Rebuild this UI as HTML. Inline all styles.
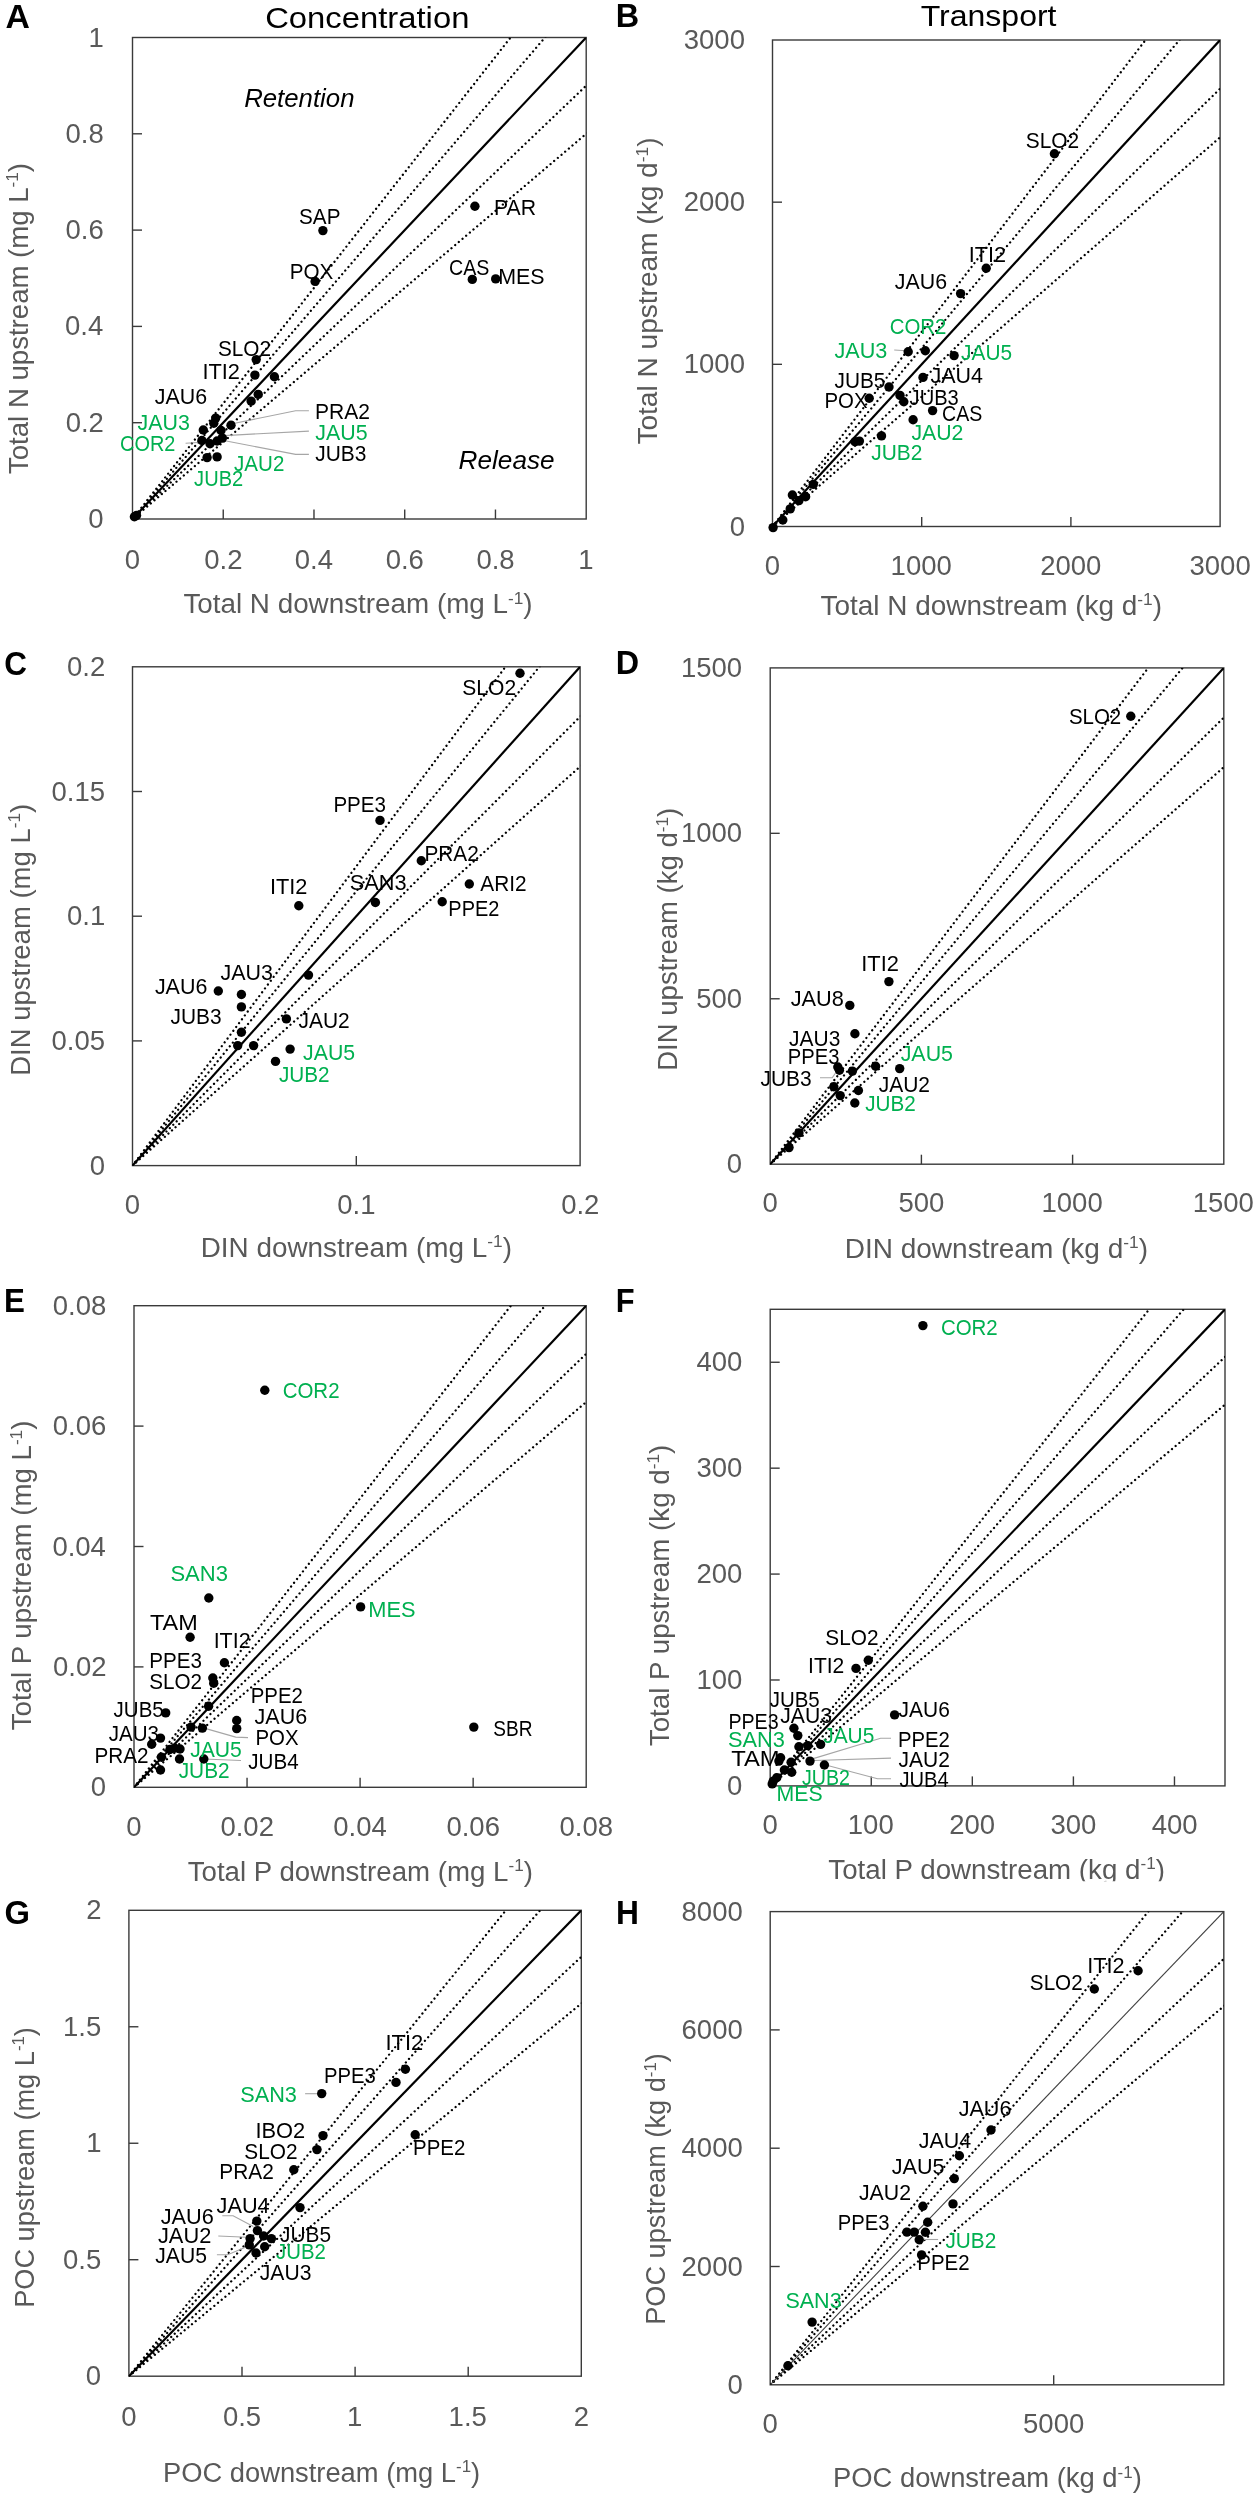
<!DOCTYPE html><html><head><meta charset="utf-8"><style>html,body{margin:0;padding:0;background:#fff;width:1260px;height:2500px;overflow:hidden;}svg{display:block;will-change:transform;font-family:"Liberation Sans",sans-serif;}</style></head><body>
<svg width="1260" height="2500" viewBox="0 0 1260 2500">
<rect width="1260" height="2500" fill="#fff"/>
<rect x="132.5" y="37.5" width="453.70" height="481.50" fill="none" stroke="#3a3a3a" stroke-width="1.4"/>
<line x1="223.24" y1="519.0" x2="223.24" y2="509.5" stroke="#3a3a3a" stroke-width="1.4"/>
<line x1="313.98" y1="519.0" x2="313.98" y2="509.5" stroke="#3a3a3a" stroke-width="1.4"/>
<line x1="404.72" y1="519.0" x2="404.72" y2="509.5" stroke="#3a3a3a" stroke-width="1.4"/>
<line x1="495.46" y1="519.0" x2="495.46" y2="509.5" stroke="#3a3a3a" stroke-width="1.4"/>
<line x1="132.5" y1="422.70" x2="142.0" y2="422.70" stroke="#3a3a3a" stroke-width="1.4"/>
<line x1="132.5" y1="326.40" x2="142.0" y2="326.40" stroke="#3a3a3a" stroke-width="1.4"/>
<line x1="132.5" y1="230.10" x2="142.0" y2="230.10" stroke="#3a3a3a" stroke-width="1.4"/>
<line x1="132.5" y1="133.80" x2="142.0" y2="133.80" stroke="#3a3a3a" stroke-width="1.4"/>
<clipPath id="cA"><rect x="132.5" y="37.5" width="453.70000000000005" height="481.5"/></clipPath>
<g clip-path="url(#cA)">
<line x1="132.50" y1="519.00" x2="608.88" y2="-87.69" stroke="#000" stroke-width="2.3" stroke-linecap="round" stroke-dasharray="0.01 4.8"/>
<line x1="132.50" y1="519.00" x2="608.88" y2="-37.13" stroke="#000" stroke-width="2.3" stroke-linecap="round" stroke-dasharray="0.01 4.8"/>
<line x1="132.50" y1="519.00" x2="608.88" y2="63.98" stroke="#000" stroke-width="2.3" stroke-linecap="round" stroke-dasharray="0.01 4.8"/>
<line x1="132.50" y1="519.00" x2="608.88" y2="114.54" stroke="#000" stroke-width="2.3" stroke-linecap="round" stroke-dasharray="0.01 4.8"/>
<line x1="132.50" y1="519.00" x2="608.88" y2="13.42" stroke="#000" stroke-width="2.2"/>
</g>
<polyline points="308.9,410.7 295.6,410.7 231.1,424.0" fill="none" stroke="#a6a6a6" stroke-width="1.1"/>
<polyline points="308.9,431.1 224.4,435.6" fill="none" stroke="#a6a6a6" stroke-width="1.1"/>
<polyline points="308.9,454.4 295.6,454.4 221.1,440.0" fill="none" stroke="#a6a6a6" stroke-width="1.1"/>
<polyline points="185.6,443.3 202.2,442.2" fill="none" stroke="#a6a6a6" stroke-width="1.1"/>
<circle cx="256.2" cy="359.6" r="4.7"/>
<circle cx="254.9" cy="375.1" r="4.7"/>
<circle cx="274.4" cy="376.7" r="4.7"/>
<circle cx="258.2" cy="394.4" r="4.7"/>
<circle cx="251.1" cy="401.1" r="4.7"/>
<circle cx="215.7" cy="418.1" r="4.7"/>
<circle cx="213.8" cy="423.3" r="4.7"/>
<circle cx="203.3" cy="430.0" r="4.7"/>
<circle cx="231.0" cy="425.2" r="4.7"/>
<circle cx="221.0" cy="430.5" r="4.7"/>
<circle cx="222.4" cy="438.1" r="4.7"/>
<circle cx="201.9" cy="440.5" r="4.7"/>
<circle cx="210.0" cy="443.8" r="4.7"/>
<circle cx="217.1" cy="441.0" r="4.7"/>
<circle cx="207.1" cy="457.6" r="4.7"/>
<circle cx="217.1" cy="456.9" r="4.7"/>
<circle cx="134.4" cy="516.7" r="4.7"/>
<circle cx="136.5" cy="515.5" r="4.7"/>
<circle cx="322.9" cy="230.6" r="4.7"/>
<circle cx="315.1" cy="281.4" r="4.7"/>
<circle cx="474.9" cy="206.3" r="4.7"/>
<circle cx="472.3" cy="279.4" r="4.7"/>
<circle cx="495.7" cy="278.9" r="4.7"/>
<text transform="translate(217.97,355.60) scale(0.9225,1)" font-size="22.5" fill="#000">SLO2</text>
<text transform="translate(202.39,378.90) scale(0.9699,1)" font-size="22.5" fill="#000">ITI2</text>
<text transform="translate(154.78,404.00) scale(0.9514,1)" font-size="22.5" fill="#000">JAU6</text>
<text transform="translate(137.48,430.00) scale(0.9514,1)" font-size="22.5" fill="#00b050">JAU3</text>
<text transform="translate(120.10,451.10) scale(0.8846,1)" font-size="22.5" fill="#00b050">COR2</text>
<text transform="translate(314.97,418.90) scale(0.9355,1)" font-size="22.5" fill="#000">PRA2</text>
<text transform="translate(315.28,440.00) scale(0.9507,1)" font-size="22.5" fill="#00b050">JAU5</text>
<text transform="translate(315.29,461.10) scale(0.9310,1)" font-size="22.5" fill="#000">JUB3</text>
<text transform="translate(234.09,470.70) scale(0.9132,1)" font-size="22.5" fill="#00b050">JAU2</text>
<text transform="translate(194.10,486.20) scale(0.8926,1)" font-size="22.5" fill="#00b050">JUB2</text>
<text transform="translate(299.07,224.30) scale(0.9197,1)" font-size="22.5" fill="#000">SAP</text>
<text transform="translate(289.71,279.40) scale(0.9181,1)" font-size="22.5" fill="#000">POX</text>
<text transform="translate(493.96,215.10) scale(0.9445,1)" font-size="22.5" fill="#000">PAR</text>
<text transform="translate(449.02,274.90) scale(0.8748,1)" font-size="22.5" fill="#000">CAS</text>
<text transform="translate(498.24,284.30) scale(0.9521,1)" font-size="22.5" fill="#000">MES</text>
<text x="124.84" y="568.60" font-size="27.5" fill="#595959">0</text>
<text x="204.28" y="568.60" font-size="27.5" fill="#595959">0.2</text>
<text x="294.73" y="568.60" font-size="27.5" fill="#595959">0.4</text>
<text x="385.66" y="568.60" font-size="27.5" fill="#595959">0.6</text>
<text x="476.40" y="568.60" font-size="27.5" fill="#595959">0.8</text>
<text x="578.17" y="568.60" font-size="27.5" fill="#595959">1</text>
<text x="88.25" y="528.01" font-size="27.5" fill="#595959">0</text>
<text x="65.65" y="431.71" font-size="27.5" fill="#595959">0.2</text>
<text x="65.07" y="335.41" font-size="27.5" fill="#595959">0.4</text>
<text x="65.46" y="239.11" font-size="27.5" fill="#595959">0.6</text>
<text x="65.46" y="142.81" font-size="27.5" fill="#595959">0.8</text>
<text x="88.53" y="46.51" font-size="27.5" fill="#595959">1</text>
<text transform="translate(183.39,613.40) scale(1.0305,1)" font-size="27.0" fill="#595959"><tspan>Total N downstream (mg L</tspan><tspan font-size="16.74" dy="-9.72">-1</tspan><tspan dy="9.72">)</tspan></text>
<text transform="translate(27.70,474.01) rotate(-90) scale(1.0221,1)" font-size="27.0" fill="#595959"><tspan>Total N upstream (mg L</tspan><tspan font-size="16.74" dy="-9.72">-1</tspan><tspan dy="9.72">)</tspan></text>
<text transform="translate(5.49,27.70) scale(0.9994,1)" font-size="33.8" fill="#000" font-weight="bold">A</text>
<rect x="772.5" y="40.0" width="447.60" height="486.50" fill="none" stroke="#3a3a3a" stroke-width="1.4"/>
<line x1="921.70" y1="526.5" x2="921.70" y2="517.0" stroke="#3a3a3a" stroke-width="1.4"/>
<line x1="1070.90" y1="526.5" x2="1070.90" y2="517.0" stroke="#3a3a3a" stroke-width="1.4"/>
<line x1="772.5" y1="364.33" x2="782.0" y2="364.33" stroke="#3a3a3a" stroke-width="1.4"/>
<line x1="772.5" y1="202.17" x2="782.0" y2="202.17" stroke="#3a3a3a" stroke-width="1.4"/>
<clipPath id="cB"><rect x="772.5" y="40.0" width="447.5999999999999" height="486.5"/></clipPath>
<g clip-path="url(#cB)">
<line x1="772.50" y1="526.50" x2="1242.48" y2="-86.49" stroke="#000" stroke-width="2.3" stroke-linecap="round" stroke-dasharray="0.01 4.8"/>
<line x1="772.50" y1="526.50" x2="1242.48" y2="-35.41" stroke="#000" stroke-width="2.3" stroke-linecap="round" stroke-dasharray="0.01 4.8"/>
<line x1="772.50" y1="526.50" x2="1242.48" y2="66.76" stroke="#000" stroke-width="2.3" stroke-linecap="round" stroke-dasharray="0.01 4.8"/>
<line x1="772.50" y1="526.50" x2="1242.48" y2="117.84" stroke="#000" stroke-width="2.3" stroke-linecap="round" stroke-dasharray="0.01 4.8"/>
<line x1="772.50" y1="526.50" x2="1242.48" y2="15.67" stroke="#000" stroke-width="2.2"/>
</g>
<polyline points="894.2,350.0 906.4,350.7" fill="none" stroke="#a6a6a6" stroke-width="1.1"/>
<circle cx="1054.4" cy="153.8" r="4.7"/>
<circle cx="986.2" cy="268.2" r="4.7"/>
<circle cx="960.6" cy="293.6" r="4.7"/>
<circle cx="908.2" cy="351.7" r="4.7"/>
<circle cx="925.3" cy="350.7" r="4.7"/>
<circle cx="954.1" cy="355.6" r="4.7"/>
<circle cx="923.0" cy="377.4" r="4.7"/>
<circle cx="889.0" cy="387.0" r="4.7"/>
<circle cx="869.2" cy="398.3" r="4.7"/>
<circle cx="900.0" cy="395.4" r="4.7"/>
<circle cx="903.8" cy="401.8" r="4.7"/>
<circle cx="932.6" cy="410.6" r="4.7"/>
<circle cx="913.1" cy="419.8" r="4.7"/>
<circle cx="881.5" cy="435.9" r="4.7"/>
<circle cx="855.0" cy="441.7" r="4.7"/>
<circle cx="859.4" cy="441.1" r="4.7"/>
<circle cx="773.1" cy="527.6" r="4.7"/>
<circle cx="782.8" cy="520.0" r="4.7"/>
<circle cx="790.2" cy="508.9" r="4.7"/>
<circle cx="792.4" cy="495.0" r="4.7"/>
<circle cx="798.9" cy="500.6" r="4.7"/>
<circle cx="805.6" cy="496.7" r="4.7"/>
<circle cx="813.3" cy="484.4" r="4.7"/>
<text transform="translate(1025.76,147.80) scale(0.9297,1)" font-size="22.5" fill="#000">SLO2</text>
<text transform="translate(968.71,261.80) scale(0.9614,1)" font-size="22.5" fill="#000">ITI2</text>
<text transform="translate(894.78,288.90) scale(0.9496,1)" font-size="22.5" fill="#000">JAU6</text>
<text transform="translate(889.68,333.70) scale(0.9078,1)" font-size="22.5" fill="#00b050">COR2</text>
<text transform="translate(834.48,358.20) scale(0.9608,1)" font-size="22.5" fill="#00b050">JAU3</text>
<text transform="translate(961.09,359.90) scale(0.9265,1)" font-size="22.5" fill="#00b050">JAU5</text>
<text transform="translate(930.58,382.60) scale(0.9533,1)" font-size="22.5" fill="#000">JAU4</text>
<text transform="translate(834.49,387.90) scale(0.9265,1)" font-size="22.5" fill="#000">JUB5</text>
<text transform="translate(824.43,407.90) scale(0.9070,1)" font-size="22.5" fill="#000">POX</text>
<text transform="translate(909.60,404.50) scale(0.8937,1)" font-size="22.5" fill="#000">JUB3</text>
<text transform="translate(942.12,421.00) scale(0.8703,1)" font-size="22.5" fill="#000">CAS</text>
<text transform="translate(911.38,440.20) scale(0.9449,1)" font-size="22.5" fill="#00b050">JAU2</text>
<text transform="translate(871.19,459.50) scale(0.9300,1)" font-size="22.5" fill="#00b050">JUB2</text>
<text x="764.84" y="575.30" font-size="27.5" fill="#595959">0</text>
<text x="890.60" y="575.30" font-size="27.5" fill="#595959">1000</text>
<text x="1040.15" y="575.30" font-size="27.5" fill="#595959">2000</text>
<text x="1189.52" y="575.30" font-size="27.5" fill="#595959">3000</text>
<text x="729.65" y="535.51" font-size="27.5" fill="#595959">0</text>
<text x="683.78" y="373.34" font-size="27.5" fill="#595959">1000</text>
<text x="683.78" y="211.18" font-size="27.5" fill="#595959">2000</text>
<text x="683.78" y="49.01" font-size="27.5" fill="#595959">3000</text>
<text transform="translate(820.49,614.70) scale(1.0353,1)" font-size="27.0" fill="#595959"><tspan>Total N downstream (kg d</tspan><tspan font-size="16.74" dy="-9.72">-1</tspan><tspan dy="9.72">)</tspan></text>
<text transform="translate(657.40,444.62) rotate(-90) scale(1.0402,1)" font-size="27.0" fill="#595959"><tspan>Total N upstream (kg d</tspan><tspan font-size="16.74" dy="-9.72">-1</tspan><tspan dy="9.72">)</tspan></text>
<text transform="translate(615.76,27.00) scale(0.9588,1)" font-size="33.8" fill="#000" font-weight="bold">B</text>
<rect x="132.5" y="666.8" width="447.60" height="498.80" fill="none" stroke="#3a3a3a" stroke-width="1.4"/>
<line x1="356.30" y1="1165.6" x2="356.30" y2="1156.1" stroke="#3a3a3a" stroke-width="1.4"/>
<line x1="132.5" y1="1040.90" x2="142.0" y2="1040.90" stroke="#3a3a3a" stroke-width="1.4"/>
<line x1="132.5" y1="916.20" x2="142.0" y2="916.20" stroke="#3a3a3a" stroke-width="1.4"/>
<line x1="132.5" y1="791.50" x2="142.0" y2="791.50" stroke="#3a3a3a" stroke-width="1.4"/>
<clipPath id="cC"><rect x="132.5" y="666.8" width="447.6" height="498.79999999999995"/></clipPath>
<g clip-path="url(#cC)">
<line x1="132.50" y1="1165.60" x2="602.48" y2="537.11" stroke="#000" stroke-width="2.3" stroke-linecap="round" stroke-dasharray="0.01 4.8"/>
<line x1="132.50" y1="1165.60" x2="602.48" y2="589.49" stroke="#000" stroke-width="2.3" stroke-linecap="round" stroke-dasharray="0.01 4.8"/>
<line x1="132.50" y1="1165.60" x2="602.48" y2="694.23" stroke="#000" stroke-width="2.3" stroke-linecap="round" stroke-dasharray="0.01 4.8"/>
<line x1="132.50" y1="1165.60" x2="602.48" y2="746.61" stroke="#000" stroke-width="2.3" stroke-linecap="round" stroke-dasharray="0.01 4.8"/>
<line x1="132.50" y1="1165.60" x2="602.48" y2="641.86" stroke="#000" stroke-width="2.2"/>
</g>
<circle cx="520.0" cy="673.3" r="4.7"/>
<circle cx="380.0" cy="820.4" r="4.7"/>
<circle cx="421.3" cy="860.7" r="4.7"/>
<circle cx="469.3" cy="884.0" r="4.7"/>
<circle cx="375.4" cy="902.5" r="4.7"/>
<circle cx="442.2" cy="901.8" r="4.7"/>
<circle cx="298.8" cy="905.8" r="4.7"/>
<circle cx="308.5" cy="975.1" r="4.7"/>
<circle cx="218.3" cy="991.0" r="4.7"/>
<circle cx="241.4" cy="994.5" r="4.7"/>
<circle cx="241.4" cy="1006.9" r="4.7"/>
<circle cx="286.4" cy="1018.9" r="4.7"/>
<circle cx="241.4" cy="1032.3" r="4.7"/>
<circle cx="237.7" cy="1045.6" r="4.7"/>
<circle cx="253.6" cy="1045.6" r="4.7"/>
<circle cx="290.1" cy="1049.1" r="4.7"/>
<circle cx="275.5" cy="1061.4" r="4.7"/>
<text transform="translate(462.35,695.10) scale(0.9351,1)" font-size="22.5" fill="#000">SLO2</text>
<text transform="translate(333.41,811.80) scale(0.9137,1)" font-size="22.5" fill="#000">PPE3</text>
<text transform="translate(424.49,861.10) scale(0.9247,1)" font-size="22.5" fill="#000">PRA2</text>
<text transform="translate(480.36,890.70) scale(0.9253,1)" font-size="22.5" fill="#000">ARI2</text>
<text transform="translate(349.72,890.00) scale(0.9667,1)" font-size="22.5" fill="#000">SAN3</text>
<text transform="translate(448.36,915.60) scale(0.8871,1)" font-size="22.5" fill="#000">PPE2</text>
<text transform="translate(270.00,894.00) scale(0.9670,1)" font-size="22.5" fill="#000">ITI2</text>
<text transform="translate(154.88,994.10) scale(0.9533,1)" font-size="22.5" fill="#000">JAU6</text>
<text transform="translate(220.48,980.10) scale(0.9533,1)" font-size="22.5" fill="#000">JAU3</text>
<text transform="translate(170.59,1024.00) scale(0.9291,1)" font-size="22.5" fill="#000">JUB3</text>
<text transform="translate(298.49,1028.20) scale(0.9318,1)" font-size="22.5" fill="#000">JAU2</text>
<text transform="translate(303.08,1059.60) scale(0.9451,1)" font-size="22.5" fill="#00b050">JAU5</text>
<text transform="translate(278.99,1081.70) scale(0.9206,1)" font-size="22.5" fill="#00b050">JUB2</text>
<text x="124.84" y="1214.40" font-size="27.5" fill="#595959">0</text>
<text x="337.31" y="1214.40" font-size="27.5" fill="#595959">0.1</text>
<text x="561.14" y="1214.40" font-size="27.5" fill="#595959">0.2</text>
<text x="89.66" y="1174.61" font-size="27.5" fill="#595959">0</text>
<text x="51.51" y="1049.91" font-size="27.5" fill="#595959">0.05</text>
<text x="67.00" y="925.21" font-size="27.5" fill="#595959">0.1</text>
<text x="51.51" y="800.51" font-size="27.5" fill="#595959">0.15</text>
<text x="67.05" y="675.81" font-size="27.5" fill="#595959">0.2</text>
<text transform="translate(200.71,1257.00) scale(1.0324,1)" font-size="27.0" fill="#595959"><tspan>DIN downstream (mg L</tspan><tspan font-size="16.74" dy="-9.72">-1</tspan><tspan dy="9.72">)</tspan></text>
<text transform="translate(30.10,1075.86) rotate(-90) scale(1.0188,1)" font-size="27.0" fill="#595959"><tspan>DIN upstream (mg L</tspan><tspan font-size="16.74" dy="-9.72">-1</tspan><tspan dy="9.72">)</tspan></text>
<text transform="translate(4.21,674.90) scale(0.9319,1)" font-size="33.8" fill="#000" font-weight="bold">C</text>
<rect x="770.2" y="667.9" width="453.60" height="496.30" fill="none" stroke="#3a3a3a" stroke-width="1.4"/>
<line x1="921.40" y1="1164.2" x2="921.40" y2="1154.7" stroke="#3a3a3a" stroke-width="1.4"/>
<line x1="1072.60" y1="1164.2" x2="1072.60" y2="1154.7" stroke="#3a3a3a" stroke-width="1.4"/>
<line x1="770.2" y1="998.77" x2="779.7" y2="998.77" stroke="#3a3a3a" stroke-width="1.4"/>
<line x1="770.2" y1="833.33" x2="779.7" y2="833.33" stroke="#3a3a3a" stroke-width="1.4"/>
<clipPath id="cD"><rect x="770.2" y="667.9" width="453.5999999999999" height="496.30000000000007"/></clipPath>
<g clip-path="url(#cD)">
<line x1="770.20" y1="1164.20" x2="1246.48" y2="538.86" stroke="#000" stroke-width="2.3" stroke-linecap="round" stroke-dasharray="0.01 4.8"/>
<line x1="770.20" y1="1164.20" x2="1246.48" y2="590.97" stroke="#000" stroke-width="2.3" stroke-linecap="round" stroke-dasharray="0.01 4.8"/>
<line x1="770.20" y1="1164.20" x2="1246.48" y2="695.20" stroke="#000" stroke-width="2.3" stroke-linecap="round" stroke-dasharray="0.01 4.8"/>
<line x1="770.20" y1="1164.20" x2="1246.48" y2="747.31" stroke="#000" stroke-width="2.3" stroke-linecap="round" stroke-dasharray="0.01 4.8"/>
<line x1="770.20" y1="1164.20" x2="1246.48" y2="643.08" stroke="#000" stroke-width="2.2"/>
</g>
<polyline points="820.0,1077.8 832.2,1077.8 835.9,1072.5" fill="none" stroke="#a6a6a6" stroke-width="1.1"/>
<circle cx="1130.8" cy="716.2" r="4.7"/>
<circle cx="888.9" cy="981.6" r="4.7"/>
<circle cx="849.8" cy="1005.4" r="4.7"/>
<circle cx="854.9" cy="1033.7" r="4.7"/>
<circle cx="837.8" cy="1067.0" r="4.7"/>
<circle cx="839.4" cy="1070.2" r="4.7"/>
<circle cx="852.4" cy="1071.1" r="4.7"/>
<circle cx="875.6" cy="1066.2" r="4.7"/>
<circle cx="899.7" cy="1068.6" r="4.7"/>
<circle cx="833.8" cy="1086.8" r="4.7"/>
<circle cx="840.2" cy="1095.6" r="4.7"/>
<circle cx="858.4" cy="1090.5" r="4.7"/>
<circle cx="854.8" cy="1103.0" r="4.7"/>
<circle cx="798.9" cy="1132.9" r="4.7"/>
<circle cx="789.0" cy="1147.6" r="4.7"/>
<text transform="translate(1068.88,724.10) scale(0.9098,1)" font-size="22.5" fill="#000">SLO2</text>
<text transform="translate(861.19,971.00) scale(0.9727,1)" font-size="22.5" fill="#000">ITI2</text>
<text transform="translate(790.67,1006.30) scale(0.9663,1)" font-size="22.5" fill="#000">JAU8</text>
<text transform="translate(789.09,1045.60) scale(0.9310,1)" font-size="22.5" fill="#000">JAU3</text>
<text transform="translate(787.74,1064.10) scale(0.8991,1)" font-size="22.5" fill="#000">PPE3</text>
<text transform="translate(900.68,1060.60) scale(0.9507,1)" font-size="22.5" fill="#00b050">JAU5</text>
<text transform="translate(878.68,1091.60) scale(0.9337,1)" font-size="22.5" fill="#000">JAU2</text>
<text transform="translate(760.49,1085.70) scale(0.9310,1)" font-size="22.5" fill="#000">JUB3</text>
<text transform="translate(865.29,1110.60) scale(0.9188,1)" font-size="22.5" fill="#00b050">JUB2</text>
<text x="762.54" y="1211.90" font-size="27.5" fill="#595959">0</text>
<text x="898.44" y="1211.90" font-size="27.5" fill="#595959">500</text>
<text x="1041.50" y="1211.90" font-size="27.5" fill="#595959">1000</text>
<text x="1192.70" y="1211.90" font-size="27.5" fill="#595959">1500</text>
<text x="726.75" y="1173.21" font-size="27.5" fill="#595959">0</text>
<text x="696.17" y="1007.78" font-size="27.5" fill="#595959">500</text>
<text x="680.88" y="842.34" font-size="27.5" fill="#595959">1000</text>
<text x="680.88" y="676.91" font-size="27.5" fill="#595959">1500</text>
<text transform="translate(844.70,1257.80) scale(1.0378,1)" font-size="27.0" fill="#595959"><tspan>DIN downstream (kg d</tspan><tspan font-size="16.74" dy="-9.72">-1</tspan><tspan dy="9.72">)</tspan></text>
<text transform="translate(677.30,1070.76) rotate(-90) scale(1.0198,1)" font-size="27.0" fill="#595959"><tspan>DIN upstream (kg d</tspan><tspan font-size="16.74" dy="-9.72">-1</tspan><tspan dy="9.72">)</tspan></text>
<text transform="translate(615.86,673.90) scale(0.9573,1)" font-size="33.8" fill="#000" font-weight="bold">D</text>
<rect x="134.0" y="1305.7" width="452.20" height="481.60" fill="none" stroke="#3a3a3a" stroke-width="1.4"/>
<line x1="247.05" y1="1787.3" x2="247.05" y2="1777.8" stroke="#3a3a3a" stroke-width="1.4"/>
<line x1="360.10" y1="1787.3" x2="360.10" y2="1777.8" stroke="#3a3a3a" stroke-width="1.4"/>
<line x1="473.15" y1="1787.3" x2="473.15" y2="1777.8" stroke="#3a3a3a" stroke-width="1.4"/>
<line x1="134.0" y1="1666.90" x2="143.5" y2="1666.90" stroke="#3a3a3a" stroke-width="1.4"/>
<line x1="134.0" y1="1546.50" x2="143.5" y2="1546.50" stroke="#3a3a3a" stroke-width="1.4"/>
<line x1="134.0" y1="1426.10" x2="143.5" y2="1426.10" stroke="#3a3a3a" stroke-width="1.4"/>
<clipPath id="cE"><rect x="134.0" y="1305.7" width="452.20000000000005" height="481.5999999999999"/></clipPath>
<g clip-path="url(#cE)">
<line x1="134.00" y1="1787.30" x2="608.81" y2="1180.48" stroke="#000" stroke-width="2.3" stroke-linecap="round" stroke-dasharray="0.01 4.8"/>
<line x1="134.00" y1="1787.30" x2="608.81" y2="1231.05" stroke="#000" stroke-width="2.3" stroke-linecap="round" stroke-dasharray="0.01 4.8"/>
<line x1="134.00" y1="1787.30" x2="608.81" y2="1332.19" stroke="#000" stroke-width="2.3" stroke-linecap="round" stroke-dasharray="0.01 4.8"/>
<line x1="134.00" y1="1787.30" x2="608.81" y2="1382.76" stroke="#000" stroke-width="2.3" stroke-linecap="round" stroke-dasharray="0.01 4.8"/>
<line x1="134.00" y1="1787.30" x2="608.81" y2="1281.62" stroke="#000" stroke-width="2.2"/>
</g>
<polyline points="248.0,1737.6 235.7,1737.1 202.4,1727.6" fill="none" stroke="#a6a6a6" stroke-width="1.1"/>
<polyline points="241.0,1760.5 203.8,1759.0" fill="none" stroke="#a6a6a6" stroke-width="1.1"/>
<circle cx="264.8" cy="1390.2" r="4.7"/>
<circle cx="360.6" cy="1606.9" r="4.7"/>
<circle cx="473.8" cy="1727.1" r="4.7"/>
<circle cx="208.8" cy="1598.0" r="4.7"/>
<circle cx="190.1" cy="1637.2" r="4.7"/>
<circle cx="224.4" cy="1662.8" r="4.7"/>
<circle cx="212.8" cy="1678.0" r="4.7"/>
<circle cx="213.7" cy="1683.3" r="4.7"/>
<circle cx="208.6" cy="1706.2" r="4.7"/>
<circle cx="165.7" cy="1712.9" r="4.7"/>
<circle cx="236.7" cy="1720.5" r="4.7"/>
<circle cx="236.7" cy="1728.6" r="4.7"/>
<circle cx="191.0" cy="1727.1" r="4.7"/>
<circle cx="202.4" cy="1728.1" r="4.7"/>
<circle cx="160.5" cy="1738.1" r="4.7"/>
<circle cx="151.7" cy="1744.3" r="4.7"/>
<circle cx="170.0" cy="1749.5" r="4.7"/>
<circle cx="174.8" cy="1748.1" r="4.7"/>
<circle cx="180.0" cy="1749.0" r="4.7"/>
<circle cx="161.4" cy="1757.1" r="4.7"/>
<circle cx="179.5" cy="1759.0" r="4.7"/>
<circle cx="203.8" cy="1759.0" r="4.7"/>
<circle cx="160.5" cy="1770.0" r="4.7"/>
<text transform="translate(282.68,1398.30) scale(0.9095,1)" font-size="22.5" fill="#00b050">COR2</text>
<text transform="translate(368.31,1616.90) scale(0.9695,1)" font-size="22.5" fill="#00b050">MES</text>
<text transform="translate(493.24,1735.50) scale(0.8482,1)" font-size="22.5" fill="#000">SBR</text>
<text transform="translate(170.41,1580.50) scale(0.9790,1)" font-size="22.5" fill="#00b050">SAN3</text>
<text transform="translate(149.98,1630.40) scale(1.0416,1)" font-size="22.5" fill="#000">TAM</text>
<text transform="translate(213.63,1647.50) scale(0.9530,1)" font-size="22.5" fill="#000">ITI2</text>
<text transform="translate(149.21,1667.70) scale(0.9156,1)" font-size="22.5" fill="#000">PPE3</text>
<text transform="translate(149.17,1688.70) scale(0.9189,1)" font-size="22.5" fill="#000">SLO2</text>
<text transform="translate(113.59,1716.70) scale(0.9116,1)" font-size="22.5" fill="#000">JUB5</text>
<text transform="translate(250.73,1703.30) scale(0.9072,1)" font-size="22.5" fill="#000">PPE2</text>
<text transform="translate(254.58,1724.30) scale(0.9570,1)" font-size="22.5" fill="#000">JAU6</text>
<text transform="translate(255.43,1745.20) scale(0.9070,1)" font-size="22.5" fill="#000">POX</text>
<text transform="translate(108.69,1740.50) scale(0.9142,1)" font-size="22.5" fill="#000">JAU3</text>
<text transform="translate(94.50,1763.00) scale(0.9211,1)" font-size="22.5" fill="#000">PRA2</text>
<text transform="translate(190.18,1756.70) scale(0.9395,1)" font-size="22.5" fill="#00b050">JAU5</text>
<text transform="translate(248.29,1768.70) scale(0.9163,1)" font-size="22.5" fill="#000">JUB4</text>
<text transform="translate(178.69,1777.60) scale(0.9262,1)" font-size="22.5" fill="#00b050">JUB2</text>
<text x="126.34" y="1836.40" font-size="27.5" fill="#595959">0</text>
<text x="220.44" y="1836.40" font-size="27.5" fill="#595959">0.02</text>
<text x="333.21" y="1836.40" font-size="27.5" fill="#595959">0.04</text>
<text x="446.45" y="1836.40" font-size="27.5" fill="#595959">0.06</text>
<text x="559.50" y="1836.40" font-size="27.5" fill="#595959">0.08</text>
<text x="90.85" y="1796.31" font-size="27.5" fill="#595959">0</text>
<text x="52.96" y="1675.91" font-size="27.5" fill="#595959">0.02</text>
<text x="52.38" y="1555.51" font-size="27.5" fill="#595959">0.04</text>
<text x="52.77" y="1435.11" font-size="27.5" fill="#595959">0.06</text>
<text x="52.77" y="1314.71" font-size="27.5" fill="#595959">0.08</text>
<text transform="translate(187.69,1880.50) scale(1.0244,1)" font-size="27.0" fill="#595959"><tspan>Total P downstream (mg L</tspan><tspan font-size="16.74" dy="-9.72">-1</tspan><tspan dy="9.72">)</tspan></text>
<text transform="translate(31.30,1730.31) rotate(-90) scale(1.0242,1)" font-size="27.0" fill="#595959"><tspan>Total P upstream (mg L</tspan><tspan font-size="16.74" dy="-9.72">-1</tspan><tspan dy="9.72">)</tspan></text>
<text transform="translate(4.03,1311.80) scale(0.9265,1)" font-size="33.8" fill="#000" font-weight="bold">E</text>
<rect x="770.2" y="1309.3" width="454.80" height="476.60" fill="none" stroke="#3a3a3a" stroke-width="1.4"/>
<line x1="871.27" y1="1785.9" x2="871.27" y2="1776.4" stroke="#3a3a3a" stroke-width="1.4"/>
<line x1="972.33" y1="1785.9" x2="972.33" y2="1776.4" stroke="#3a3a3a" stroke-width="1.4"/>
<line x1="1073.40" y1="1785.9" x2="1073.40" y2="1776.4" stroke="#3a3a3a" stroke-width="1.4"/>
<line x1="1174.47" y1="1785.9" x2="1174.47" y2="1776.4" stroke="#3a3a3a" stroke-width="1.4"/>
<line x1="770.2" y1="1679.99" x2="779.7" y2="1679.99" stroke="#3a3a3a" stroke-width="1.4"/>
<line x1="770.2" y1="1574.08" x2="779.7" y2="1574.08" stroke="#3a3a3a" stroke-width="1.4"/>
<line x1="770.2" y1="1468.17" x2="779.7" y2="1468.17" stroke="#3a3a3a" stroke-width="1.4"/>
<line x1="770.2" y1="1362.26" x2="779.7" y2="1362.26" stroke="#3a3a3a" stroke-width="1.4"/>
<clipPath id="cF"><rect x="770.2" y="1309.3" width="454.79999999999995" height="476.60000000000014"/></clipPath>
<g clip-path="url(#cF)">
<line x1="770.20" y1="1785.90" x2="1247.74" y2="1185.38" stroke="#000" stroke-width="2.3" stroke-linecap="round" stroke-dasharray="0.01 4.8"/>
<line x1="770.20" y1="1785.90" x2="1247.74" y2="1235.43" stroke="#000" stroke-width="2.3" stroke-linecap="round" stroke-dasharray="0.01 4.8"/>
<line x1="770.20" y1="1785.90" x2="1247.74" y2="1335.51" stroke="#000" stroke-width="2.3" stroke-linecap="round" stroke-dasharray="0.01 4.8"/>
<line x1="770.20" y1="1785.90" x2="1247.74" y2="1385.56" stroke="#000" stroke-width="2.3" stroke-linecap="round" stroke-dasharray="0.01 4.8"/>
<line x1="770.20" y1="1785.90" x2="1247.74" y2="1285.47" stroke="#000" stroke-width="2.2"/>
</g>
<polyline points="891.0,1738.3 880.6,1738.3 812.4,1758.9" fill="none" stroke="#a6a6a6" stroke-width="1.1"/>
<polyline points="891.0,1758.1 814.0,1760.5" fill="none" stroke="#a6a6a6" stroke-width="1.1"/>
<polyline points="891.0,1778.7 877.5,1778.7 826.7,1765.2" fill="none" stroke="#a6a6a6" stroke-width="1.1"/>
<circle cx="922.9" cy="1325.6" r="4.7"/>
<circle cx="868.3" cy="1660.2" r="4.7"/>
<circle cx="856.0" cy="1668.4" r="4.7"/>
<circle cx="894.6" cy="1714.9" r="4.7"/>
<circle cx="793.9" cy="1728.3" r="4.7"/>
<circle cx="797.8" cy="1735.6" r="4.7"/>
<circle cx="798.9" cy="1746.7" r="4.7"/>
<circle cx="807.8" cy="1745.6" r="4.7"/>
<circle cx="820.6" cy="1744.4" r="4.7"/>
<circle cx="780.6" cy="1757.8" r="4.7"/>
<circle cx="778.9" cy="1761.1" r="4.7"/>
<circle cx="791.1" cy="1762.2" r="4.7"/>
<circle cx="810.0" cy="1761.1" r="4.7"/>
<circle cx="824.4" cy="1765.0" r="4.7"/>
<circle cx="784.4" cy="1770.0" r="4.7"/>
<circle cx="791.7" cy="1772.2" r="4.7"/>
<circle cx="776.7" cy="1777.8" r="4.7"/>
<circle cx="773.3" cy="1781.1" r="4.7"/>
<circle cx="772.2" cy="1783.9" r="4.7"/>
<text transform="translate(940.88,1335.40) scale(0.9095,1)" font-size="22.5" fill="#00b050">COR2</text>
<text transform="translate(825.36,1645.40) scale(0.9243,1)" font-size="22.5" fill="#000">SLO2</text>
<text transform="translate(808.06,1673.20) scale(0.9361,1)" font-size="22.5" fill="#000">ITI2</text>
<text transform="translate(898.59,1717.10) scale(0.9310,1)" font-size="22.5" fill="#000">JAU6</text>
<text transform="translate(769.69,1706.70) scale(0.9097,1)" font-size="22.5" fill="#000">JUB5</text>
<text transform="translate(780.28,1722.80) scale(0.9403,1)" font-size="22.5" fill="#000">JAU3</text>
<text transform="translate(728.39,1729.40) scale(0.8735,1)" font-size="22.5" fill="#000">PPE3</text>
<text transform="translate(727.92,1746.70) scale(0.9685,1)" font-size="22.5" fill="#00b050">SAN3</text>
<text transform="translate(731.18,1765.60) scale(1.0600,1)" font-size="22.5" fill="#000">TAM</text>
<text transform="translate(823.19,1743.00) scale(0.9302,1)" font-size="22.5" fill="#00b050">JAU5</text>
<text transform="translate(898.04,1747.00) scale(0.9017,1)" font-size="22.5" fill="#000">PPE2</text>
<text transform="translate(898.58,1766.80) scale(0.9337,1)" font-size="22.5" fill="#000">JAU2</text>
<text transform="translate(899.40,1786.70) scale(0.8959,1)" font-size="22.5" fill="#000">JUB4</text>
<text transform="translate(801.91,1785.00) scale(0.8721,1)" font-size="22.5" fill="#00b050">JUB2</text>
<text transform="translate(776.56,1800.60) scale(0.9455,1)" font-size="22.5" fill="#00b050">MES</text>
<text x="762.54" y="1833.70" font-size="27.5" fill="#595959">0</text>
<text x="847.81" y="1833.70" font-size="27.5" fill="#595959">100</text>
<text x="949.23" y="1833.70" font-size="27.5" fill="#595959">200</text>
<text x="1050.47" y="1833.70" font-size="27.5" fill="#595959">300</text>
<text x="1151.75" y="1833.70" font-size="27.5" fill="#595959">400</text>
<text x="727.05" y="1794.91" font-size="27.5" fill="#595959">0</text>
<text x="696.47" y="1689.00" font-size="27.5" fill="#595959">100</text>
<text x="696.47" y="1583.09" font-size="27.5" fill="#595959">200</text>
<text x="696.47" y="1477.18" font-size="27.5" fill="#595959">300</text>
<text x="696.47" y="1371.27" font-size="27.5" fill="#595959">400</text>
<clipPath id="xtF"><rect x="0" y="0" width="1260" height="1881.2"/></clipPath><g clip-path="url(#xtF)">
<text transform="translate(828.29,1879.20) scale(1.0265,1)" font-size="27.0" fill="#595959"><tspan>Total P downstream (kg d</tspan><tspan font-size="16.74" dy="-9.72">-1</tspan><tspan dy="9.72">)</tspan></text>
</g>
<text transform="translate(668.80,1746.21) rotate(-90) scale(1.0277,1)" font-size="27.0" fill="#595959"><tspan>Total P upstream (kg d</tspan><tspan font-size="16.74" dy="-9.72">-1</tspan><tspan dy="9.72">)</tspan></text>
<text transform="translate(615.86,1311.90) scale(0.9126,1)" font-size="33.8" fill="#000" font-weight="bold">F</text>
<rect x="128.9" y="1910.3" width="452.40" height="465.90" fill="none" stroke="#3a3a3a" stroke-width="1.4"/>
<line x1="242.00" y1="2376.2" x2="242.00" y2="2366.7" stroke="#3a3a3a" stroke-width="1.4"/>
<line x1="355.10" y1="2376.2" x2="355.10" y2="2366.7" stroke="#3a3a3a" stroke-width="1.4"/>
<line x1="468.20" y1="2376.2" x2="468.20" y2="2366.7" stroke="#3a3a3a" stroke-width="1.4"/>
<line x1="128.9" y1="2259.72" x2="138.4" y2="2259.72" stroke="#3a3a3a" stroke-width="1.4"/>
<line x1="128.9" y1="2143.25" x2="138.4" y2="2143.25" stroke="#3a3a3a" stroke-width="1.4"/>
<line x1="128.9" y1="2026.77" x2="138.4" y2="2026.77" stroke="#3a3a3a" stroke-width="1.4"/>
<clipPath id="cG"><rect x="128.9" y="1910.3" width="452.4" height="465.89999999999986"/></clipPath>
<g clip-path="url(#cG)">
<line x1="128.90" y1="2376.20" x2="603.92" y2="1789.17" stroke="#000" stroke-width="2.3" stroke-linecap="round" stroke-dasharray="0.01 4.8"/>
<line x1="128.90" y1="2376.20" x2="603.92" y2="1838.09" stroke="#000" stroke-width="2.3" stroke-linecap="round" stroke-dasharray="0.01 4.8"/>
<line x1="128.90" y1="2376.20" x2="603.92" y2="1935.92" stroke="#000" stroke-width="2.3" stroke-linecap="round" stroke-dasharray="0.01 4.8"/>
<line x1="128.90" y1="2376.20" x2="603.92" y2="1984.84" stroke="#000" stroke-width="2.3" stroke-linecap="round" stroke-dasharray="0.01 4.8"/>
<line x1="128.90" y1="2376.20" x2="603.92" y2="1887.00" stroke="#000" stroke-width="2.2"/>
</g>
<polyline points="305.1,2093.7 317.0,2093.7" fill="none" stroke="#a6a6a6" stroke-width="1.1"/>
<polyline points="222.3,2215.7 233.1,2215.7 253.3,2226.5" fill="none" stroke="#a6a6a6" stroke-width="1.1"/>
<polyline points="218.3,2236.0 246.6,2237.3" fill="none" stroke="#a6a6a6" stroke-width="1.1"/>
<polyline points="216.9,2254.8 227.7,2254.8 246.6,2246.7" fill="none" stroke="#a6a6a6" stroke-width="1.1"/>
<circle cx="405.4" cy="2069.3" r="4.7"/>
<circle cx="396.0" cy="2082.4" r="4.7"/>
<circle cx="321.7" cy="2093.6" r="4.7"/>
<circle cx="323.0" cy="2135.6" r="4.7"/>
<circle cx="317.0" cy="2149.6" r="4.7"/>
<circle cx="293.8" cy="2169.8" r="4.7"/>
<circle cx="415.2" cy="2134.8" r="4.7"/>
<circle cx="300.0" cy="2207.6" r="4.7"/>
<circle cx="256.8" cy="2221.1" r="4.7"/>
<circle cx="257.4" cy="2230.6" r="4.7"/>
<circle cx="250.1" cy="2238.6" r="4.7"/>
<circle cx="249.3" cy="2244.9" r="4.7"/>
<circle cx="263.6" cy="2236.0" r="4.7"/>
<circle cx="271.4" cy="2238.6" r="4.7"/>
<circle cx="264.7" cy="2246.7" r="4.7"/>
<circle cx="256.0" cy="2253.0" r="4.7"/>
<text transform="translate(385.38,2050.30) scale(0.9755,1)" font-size="22.5" fill="#000">ITI2</text>
<text transform="translate(324.04,2082.90) scale(0.9010,1)" font-size="22.5" fill="#000">PPE3</text>
<text transform="translate(240.22,2102.40) scale(0.9650,1)" font-size="22.5" fill="#00b050">SAN3</text>
<text transform="translate(255.39,2138.00) scale(0.9712,1)" font-size="22.5" fill="#000">IBO2</text>
<text transform="translate(244.26,2159.00) scale(0.9261,1)" font-size="22.5" fill="#000">SLO2</text>
<text transform="translate(219.29,2179.30) scale(0.9283,1)" font-size="22.5" fill="#000">PRA2</text>
<text transform="translate(413.02,2155.00) scale(0.9090,1)" font-size="22.5" fill="#000">PPE2</text>
<text transform="translate(216.57,2212.50) scale(0.9644,1)" font-size="22.5" fill="#000">JAU4</text>
<text transform="translate(160.67,2223.80) scale(0.9663,1)" font-size="22.5" fill="#000">JAU6</text>
<text transform="translate(157.97,2242.70) scale(0.9692,1)" font-size="22.5" fill="#000">JAU2</text>
<text transform="translate(279.99,2242.20) scale(0.9283,1)" font-size="22.5" fill="#000">JUB5</text>
<text transform="translate(275.99,2258.90) scale(0.9057,1)" font-size="22.5" fill="#00b050">JUB2</text>
<text transform="translate(155.28,2262.90) scale(0.9395,1)" font-size="22.5" fill="#000">JAU5</text>
<text transform="translate(259.78,2279.90) scale(0.9384,1)" font-size="22.5" fill="#000">JAU3</text>
<text x="121.24" y="2425.50" font-size="27.5" fill="#595959">0</text>
<text x="222.91" y="2425.50" font-size="27.5" fill="#595959">0.5</text>
<text x="347.07" y="2425.50" font-size="27.5" fill="#595959">1</text>
<text x="448.61" y="2425.50" font-size="27.5" fill="#595959">1.5</text>
<text x="573.65" y="2425.50" font-size="27.5" fill="#595959">2</text>
<text x="85.85" y="2385.21" font-size="27.5" fill="#595959">0</text>
<text x="63.00" y="2268.74" font-size="27.5" fill="#595959">0.5</text>
<text x="86.13" y="2152.26" font-size="27.5" fill="#595959">1</text>
<text x="63.00" y="2035.65" font-size="27.5" fill="#595959">1.5</text>
<text x="86.19" y="1919.45" font-size="27.5" fill="#595959">2</text>
<text transform="translate(162.96,2482.20) scale(1.0123,1)" font-size="27.0" fill="#595959"><tspan>POC downstream (mg L</tspan><tspan font-size="16.74" dy="-9.72">-1</tspan><tspan dy="9.72">)</tspan></text>
<text transform="translate(33.50,2307.83) rotate(-90) scale(1.0070,1)" font-size="27.0" fill="#595959"><tspan>POC upstream (mg L</tspan><tspan font-size="16.74" dy="-9.72">-1</tspan><tspan dy="9.72">)</tspan></text>
<text transform="translate(4.46,1923.80) scale(0.9687,1)" font-size="33.8" fill="#000" font-weight="bold">G</text>
<rect x="770.2" y="1911.6" width="453.60" height="473.20" fill="none" stroke="#3a3a3a" stroke-width="1.4"/>
<line x1="1053.70" y1="2384.8" x2="1053.70" y2="2375.3" stroke="#3a3a3a" stroke-width="1.4"/>
<line x1="770.2" y1="2266.50" x2="779.7" y2="2266.50" stroke="#3a3a3a" stroke-width="1.4"/>
<line x1="770.2" y1="2148.20" x2="779.7" y2="2148.20" stroke="#3a3a3a" stroke-width="1.4"/>
<line x1="770.2" y1="2029.90" x2="779.7" y2="2029.90" stroke="#3a3a3a" stroke-width="1.4"/>
<clipPath id="cH"><rect x="770.2" y="1911.6" width="453.5999999999999" height="473.2000000000003"/></clipPath>
<g clip-path="url(#cH)">
<line x1="770.20" y1="2384.80" x2="1246.48" y2="1788.57" stroke="#000" stroke-width="2.3" stroke-linecap="round" stroke-dasharray="0.01 4.8"/>
<line x1="770.20" y1="2384.80" x2="1246.48" y2="1838.25" stroke="#000" stroke-width="2.3" stroke-linecap="round" stroke-dasharray="0.01 4.8"/>
<line x1="770.20" y1="2384.80" x2="1246.48" y2="1937.63" stroke="#000" stroke-width="2.3" stroke-linecap="round" stroke-dasharray="0.01 4.8"/>
<line x1="770.20" y1="2384.80" x2="1246.48" y2="1987.31" stroke="#000" stroke-width="2.3" stroke-linecap="round" stroke-dasharray="0.01 4.8"/>
<line x1="770.20" y1="2384.80" x2="1246.48" y2="1887.94" stroke="#404040" stroke-width="1.1"/>
</g>
<polyline points="922.9,2239.5 938.1,2239.5" fill="none" stroke="#a6a6a6" stroke-width="1.1"/>
<circle cx="1138.1" cy="1970.8" r="4.7"/>
<circle cx="1094.3" cy="1989.0" r="4.7"/>
<circle cx="991.0" cy="2130.0" r="4.7"/>
<circle cx="959.4" cy="2155.7" r="4.7"/>
<circle cx="954.3" cy="2178.6" r="4.7"/>
<circle cx="922.9" cy="2206.3" r="4.7"/>
<circle cx="953.0" cy="2203.9" r="4.7"/>
<circle cx="927.7" cy="2222.2" r="4.7"/>
<circle cx="906.9" cy="2232.1" r="4.7"/>
<circle cx="914.3" cy="2232.1" r="4.7"/>
<circle cx="925.4" cy="2232.3" r="4.7"/>
<circle cx="919.2" cy="2239.8" r="4.7"/>
<circle cx="921.6" cy="2254.9" r="4.7"/>
<circle cx="812.1" cy="2322.1" r="4.7"/>
<circle cx="787.9" cy="2365.7" r="4.7"/>
<text transform="translate(1087.20,1973.30) scale(0.9642,1)" font-size="22.5" fill="#000">ITI2</text>
<text transform="translate(1029.87,1989.80) scale(0.9171,1)" font-size="22.5" fill="#000">SLO2</text>
<text transform="translate(958.68,2115.70) scale(0.9589,1)" font-size="22.5" fill="#000">JAU6</text>
<text transform="translate(918.68,2148.10) scale(0.9533,1)" font-size="22.5" fill="#000">JAU4</text>
<text transform="translate(891.78,2174.30) scale(0.9581,1)" font-size="22.5" fill="#000">JAU5</text>
<text transform="translate(858.98,2200.00) scale(0.9468,1)" font-size="22.5" fill="#000">JAU2</text>
<text transform="translate(837.64,2230.30) scale(0.9010,1)" font-size="22.5" fill="#000">PPE3</text>
<text transform="translate(945.39,2248.10) scale(0.9244,1)" font-size="22.5" fill="#00b050">JUB2</text>
<text transform="translate(917.32,2270.00) scale(0.9090,1)" font-size="22.5" fill="#000">PPE2</text>
<text transform="translate(785.43,2308.30) scale(0.9562,1)" font-size="22.5" fill="#00b050">SAN3</text>
<text x="762.54" y="2432.50" font-size="27.5" fill="#595959">0</text>
<text x="1023.09" y="2432.50" font-size="27.5" fill="#595959">5000</text>
<text x="727.46" y="2393.81" font-size="27.5" fill="#595959">0</text>
<text x="681.59" y="2275.51" font-size="27.5" fill="#595959">2000</text>
<text x="681.59" y="2157.21" font-size="27.5" fill="#595959">4000</text>
<text x="681.59" y="2038.91" font-size="27.5" fill="#595959">6000</text>
<text x="681.59" y="1920.61" font-size="27.5" fill="#595959">8000</text>
<text transform="translate(832.95,2487.30) scale(1.0147,1)" font-size="27.0" fill="#595959"><tspan>POC downstream (kg d</tspan><tspan font-size="16.74" dy="-9.72">-1</tspan><tspan dy="9.72">)</tspan></text>
<text transform="translate(665.30,2324.83) rotate(-90) scale(1.0065,1)" font-size="27.0" fill="#595959"><tspan>POC upstream (kg d</tspan><tspan font-size="16.74" dy="-9.72">-1</tspan><tspan dy="9.72">)</tspan></text>
<text transform="translate(615.90,1923.60) scale(0.9393,1)" font-size="33.8" fill="#000" font-weight="bold">H</text>
<text transform="translate(265.16,27.90) scale(1.1051,1)" font-size="29.7" fill="#000">Concentration</text>
<text transform="translate(920.70,25.80) scale(1.0781,1)" font-size="29.7" fill="#000">Transport</text>
<text transform="translate(244.13,107.10) scale(1.0319,1)" font-size="25" fill="#000" font-style="italic">Retention</text>
<text transform="translate(458.61,469.10) scale(1.0469,1)" font-size="25" fill="#000" font-style="italic">Release</text>
</svg></body></html>
